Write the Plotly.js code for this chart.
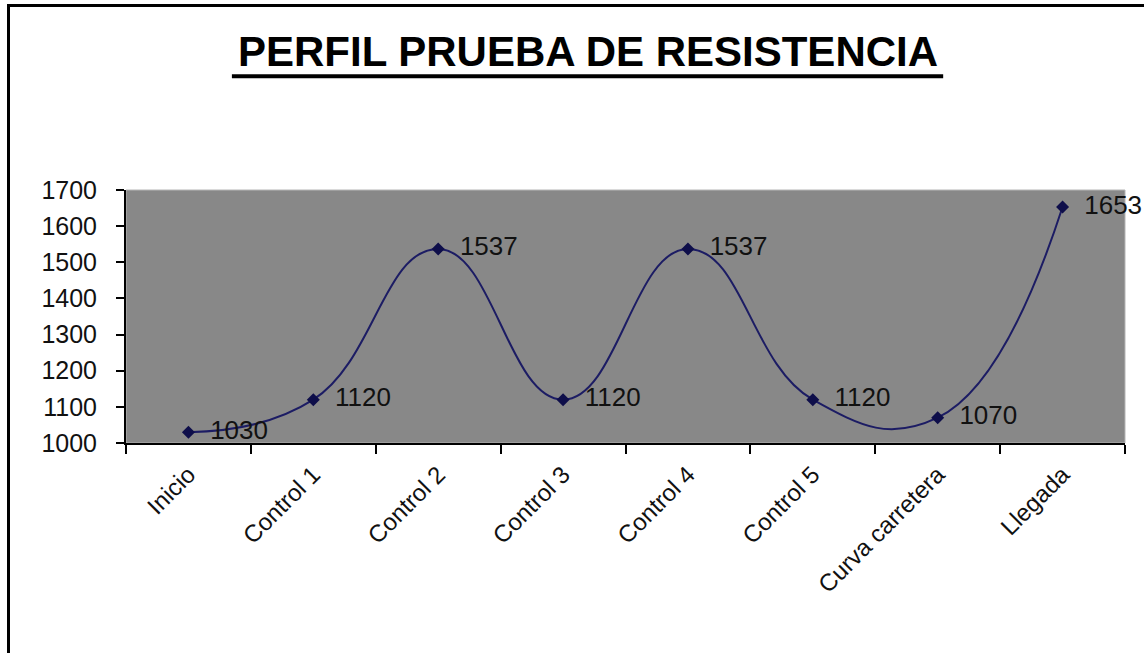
<!DOCTYPE html>
<html>
<head>
<meta charset="utf-8">
<script src="https://cdn.plot.ly/plotly-3.0.1.min.js"></script>
<style>
  html, body { margin: 0; padding: 0; background: #ffffff; }
  #wrap { position: relative; width: 1144px; height: 653px; overflow: hidden; }
  #chart { width: 1144px; height: 653px; }
  #frame { position: absolute; left: 7px; top: 4px; width: 1200px; height: 700px;
           border-top: 3px solid #000; border-left: 3px solid #000; pointer-events: none; }
</style>
</head>
<body>
<div id="wrap">
  <div id="chart"></div>
  <div id="frame"></div>
</div>
<script>
const categories = ["Inicio", "Control 1", "Control 2", "Control 3", "Control 4", "Control 5", "Curva carretera", "Llegada"];
const altitudes = [1030, 1120, 1537, 1120, 1537, 1120, 1070, 1653];
const yTicks = [1000, 1100, 1200, 1300, 1400, 1500, 1600, 1700];
const titleText = "PERFIL PRUEBA DE RESISTENCIA";

const pad = "\u00a0\u00a0";
const trace = {
  type: "scatter",
  mode: "lines+markers+text",
  x: categories,
  y: altitudes,
  text: altitudes.map(v => pad + String(v)),
  textposition: "middle right",
  textfont: { family: "Liberation Sans, Arial, sans-serif", size: 26, color: "#111111" },
  line: { shape: "spline", smoothing: 1.3, color: "#1c1c64", width: 2 },
  marker: { symbol: "diamond", size: 10, color: "#0e0e4a" },
  cliponaxis: false,
  hoverinfo: "x+y"
};

const layout = {
  width: 1144,
  height: 653,
  margin: { l: 126, r: 19, t: 190, b: 210 },
  paper_bgcolor: "#ffffff",
  plot_bgcolor: "#888888",
  showlegend: false,
  title: {
    text: "<b>" + titleText + "</b>",
    font: { family: "Liberation Sans, Arial, sans-serif", size: 42, color: "#000000" },
    xref: "container", x: 0.514, xanchor: "center",
    yref: "container", y: 0.922, yanchor: "middle"
  },
  xaxis: {
    type: "category",
    tickson: "boundaries",
    ticks: "outside",
    ticklen: 9,
    tickwidth: 2,
    tickcolor: "#000000",
    tickangle: -45,
    ticklabelstandoff: 6,
    tickfont: { family: "Liberation Sans, Arial, sans-serif", size: 24, color: "#111111" },
    showline: true,
    linecolor: "#000000",
    linewidth: 2,
    showgrid: false,
    zeroline: false,
    range: [-0.5, categories.length - 0.5]
  },
  yaxis: {
    range: [1000, 1700],
    tickvals: yTicks,
    ticktext: yTicks.map(String),
    ticks: "outside",
    ticklen: 8,
    tickwidth: 2,
    tickcolor: "#000000",
    ticklabelstandoff: 14,
    tickfont: { family: "Liberation Sans, Arial, sans-serif", size: 25, color: "#111111" },
    showline: true,
    linecolor: "#000000",
    linewidth: 2,
    showgrid: false,
    zeroline: false
  },
  shapes: [
    { type: "line", xref: "paper", yref: "paper",
      x0: 0.106, x1: 0.818, y0: 1.45, y1: 1.45,
      line: { color: "#000000", width: 4 } },
    { type: "rect", xref: "paper", yref: "paper", x0: 0, x1: 1, y0: 0, y1: 1,
      line: { color: "#b5b5b5", width: 1 }, layer: "below" }
  ]
};

Plotly.newPlot("chart", [trace], layout, { displayModeBar: false, staticPlot: true });
</script>
</body>
</html>
